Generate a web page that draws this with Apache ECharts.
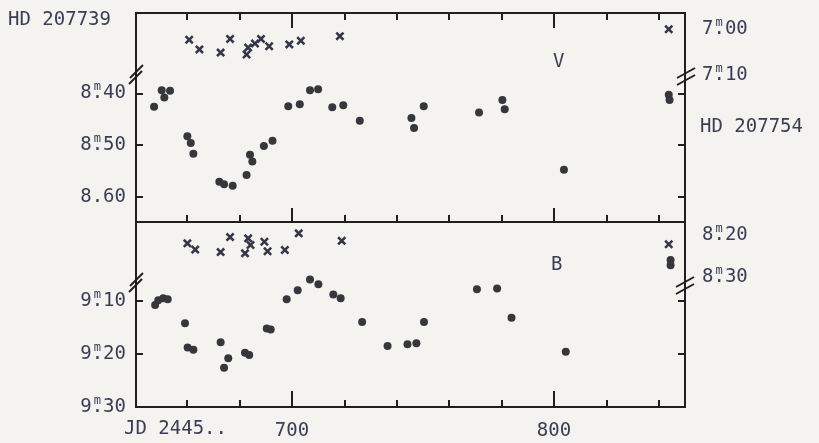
<!DOCTYPE html>
<html><head><meta charset="utf-8">
<script src="https://cdn.jsdelivr.net/npm/echarts@6/dist/echarts.min.js"></script>
<style>html,body{margin:0;padding:0;background:#f4f3ef}#c{width:819px;height:443px}</style>
</head><body><div id="c"></div>
<script>
// ---- data (JD - 2445000, magnitude) ----
const vStarJD  = [647.4,650.3,651.3,653.5,660.1,661.4,662.4,672.3,674.1,677.4,682.7,684.0,684.9,689.3,692.6,698.6,703.0,706.9,710.0,715.4,719.6,725.9,745.6,746.6,750.3,771.4,780.3,781.2,803.8,843.8,844.1];
const vStarMag = [8.426,8.394,8.408,8.395,8.483,8.496,8.517,8.571,8.576,8.579,8.558,8.519,8.532,8.502,8.492,8.425,8.421,8.394,8.392,8.427,8.423,8.453,8.448,8.467,8.425,8.437,8.413,8.431,8.548,8.403,8.413];
const vCompJD  = [660.8,664.7,672.8,676.4,682.7,683.3,685.9,688.2,691.3,699.0,703.4,718.3,843.8];
const vCompMag = [7.023,7.044,7.051,7.021,7.055,7.040,7.031,7.021,7.037,7.033,7.025,7.015,7.000];
const bStarJD  = [647.8,649.0,650.9,652.6,659.2,660.2,662.4,672.8,674.1,675.7,682.1,683.7,690.4,691.9,698.0,702.2,706.9,710.1,715.8,718.6,726.8,736.5,744.1,747.5,750.4,770.6,778.3,783.8,804.5,844.5,844.5];
const bStarMag = [9.108,9.099,9.095,9.097,9.142,9.188,9.192,9.178,9.226,9.208,9.198,9.202,9.152,9.154,9.097,9.080,9.060,9.069,9.088,9.095,9.140,9.185,9.182,9.180,9.140,9.078,9.077,9.132,9.196,9.023,9.033];
const bCompJD  = [660.1,663.1,672.8,676.4,683.3,684.2,682.1,689.5,690.7,697.3,702.6,719.0,843.8];
const bCompMag = [8.220,8.235,8.241,8.205,8.208,8.224,8.244,8.216,8.239,8.236,8.196,8.214,8.222];
// ticks and labels
const xMinorTicks = [660,680,720,740,760,780,820,840];
const xMajorTicks = [700,800];
const xLabels = [700,800];
const vLeftTicks = [8.40,8.50,8.60];
const vLeftLabels = ['8.40','8.50','8.60'];
const vLeftSup = [true,true,false];
const vRightTicks = [7.00,7.10];
const vRightLabels = ['7.00','7.10'];
const bLeftTicks = [9.10,9.20,9.30];
const bLeftLabels = ['9.10','9.20','9.30'];
const bRightTicks = [8.20,8.30];
const bRightLabels = ['8.20','8.30'];

const FONT = 'DejaVu Sans Mono';
const TXT = '#3a3e55';
const INK = '#1f1f22';
const FS = 19;

function zip(a,b){return a.map((v,i)=>[v,b[i]]);}
function lab(vals, labels, sup){
  return function(v){
    const i=vals.findIndex(t=>Math.abs(t-v)<1e-6);
    if(i<0) return '';
    const s = labels[i];
    const hasM = sup ? sup[i] : true;
    const p = s.indexOf('.');
    if(!hasM) return '{a|'+s+'}';
    return '{a|'+s.slice(0,p)+'}{m|m}{a|'+s.slice(p)+'}';
  };
}
const richStyle = {
  a:{fontFamily:FONT, fontSize:FS, lineHeight:24, color:TXT, align:'left'},
  m:{fontFamily:FONT, fontSize:12, lineHeight:1, verticalAlign:'top', color:TXT, align:'left', width:-2.1, padding:[0,0,0,2.1]}
};

function xa(grid, pos, ticks, len, labels){
  return {type:'value', gridIndex:grid, position:pos, min:640.5, max:850,
    axisLine:{show:true, onZero:false, lineStyle:{color:INK, width:2}},
    axisTick:{show:true, inside:true, length:len, customValues:ticks, lineStyle:{color:INK, width:2}},
    axisLabel: labels ? {show:true, customValues:labels, margin:15, fontFamily:FONT, fontSize:FS, color:TXT} : {show:false},
    splitLine:{show:false}};
}
function ya(grid, pos, min, max, ticks, labels, showTick, margin, sup){
  return {type:'value', gridIndex:grid, position:pos, inverse:true, min:min, max:max,
    axisLine:{show:true, onZero:false, lineStyle:{color:INK, width:2}},
    axisTick:{show:showTick, inside:true, length:7, customValues:ticks, lineStyle:{color:INK, width:2}},
    axisLabel: labels ? {show:true, customValues:ticks, formatter:lab(ticks,labels,sup), margin:margin, rich:richStyle, color:TXT} : {show:false},
    splitLine:{show:false}};
}

const crossPath = 'path://M2,0 L5,3 L8,0 L10,2 L7,5 L10,8 L8,10 L5,7 L2,10 L0,8 L3,5 L0,2Z';

const chart = echarts.init(document.getElementById('c'));
const option = {
  backgroundColor:'#f4f3ef',
  animation:false,
  grid:[{left:136, top:13, width:549, height:209},{left:136, top:222, width:549, height:185}],
  xAxis:[
    xa(0,'bottom',xMinorTicks,7,null),
    xa(0,'bottom',xMajorTicks,14,null),
    xa(0,'top',xMinorTicks,7,null),
    xa(0,'top',xMajorTicks,15,null),
    xa(1,'bottom',xMinorTicks,7,xLabels),
    xa(1,'bottom',xMajorTicks,16,null)
  ],
  yAxis:[
    ya(0,'left',8.2447,8.649,vLeftTicks,vLeftLabels,true,10,vLeftSup),
    ya(0,'right',6.9643,7.4217,vRightTicks,vRightLabels,false,17),
    ya(0,'right',8.2447,8.649,vLeftTicks,null,true,10),
    ya(1,'left',8.9515,9.30,bLeftTicks,bLeftLabels,true,10),
    ya(1,'right',8.1688,8.6125,bRightTicks,bRightLabels,false,17),
    ya(1,'right',8.9515,9.30,bLeftTicks.slice(0,2),null,true,10)
  ],
  series:[
    {name:'V HD 207739', type:'scatter', xAxisIndex:0, yAxisIndex:0, data:zip(vStarJD,vStarMag), symbol:'circle', symbolSize:8, itemStyle:{color:'#36373d', opacity:1}},
    {name:'V HD 207754', type:'scatter', xAxisIndex:0, yAxisIndex:1, data:zip(vCompJD,vCompMag), symbol:crossPath, symbolSize:9, itemStyle:{color:'#34364a', opacity:1}},
    {name:'B HD 207739', type:'scatter', xAxisIndex:4, yAxisIndex:3, data:zip(bStarJD,bStarMag), symbol:'circle', symbolSize:8, itemStyle:{color:'#36373d', opacity:1}},
    {name:'B HD 207754', type:'scatter', xAxisIndex:4, yAxisIndex:4, data:zip(bCompJD,bCompMag), symbol:crossPath, symbolSize:9, itemStyle:{color:'#34364a', opacity:1}}
  ],
  graphic:[
    {type:'text', left:8, top:11, style:{text:'HD 207739', font:FS+'px "'+FONT+'"', fill:TXT}},
    {type:'text', left:700, top:118, style:{text:'HD 207754', font:FS+'px "'+FONT+'"', fill:TXT}},
    {type:'text', left:553, top:53, style:{text:'V', font:FS+'px "'+FONT+'"', fill:TXT}},
    {type:'text', left:551, top:256, style:{text:'B', font:FS+'px "'+FONT+'"', fill:TXT}},
    {type:'text', left:124, top:420, style:{text:'JD 2445..', font:FS+'px "'+FONT+'"', fill:TXT}},
    // axis break marks
    {type:'line', shape:{x1:130,y1:78,x2:143,y2:65}, style:{stroke:INK, lineWidth:2}},
    {type:'line', shape:{x1:129,y1:84,x2:142,y2:71}, style:{stroke:INK, lineWidth:2}},
    {type:'line', shape:{x1:130,y1:286,x2:143,y2:273}, style:{stroke:INK, lineWidth:2}},
    {type:'line', shape:{x1:129,y1:292,x2:142,y2:279}, style:{stroke:INK, lineWidth:2}},
    {type:'line', shape:{x1:677,y1:78,x2:695,y2:68}, style:{stroke:INK, lineWidth:2}},
    {type:'line', shape:{x1:677,y1:85,x2:695,y2:75}, style:{stroke:INK, lineWidth:2}},
    {type:'line', shape:{x1:676,y1:287,x2:694,y2:277}, style:{stroke:INK, lineWidth:2}},
    {type:'line', shape:{x1:676,y1:294,x2:694,y2:284}, style:{stroke:INK, lineWidth:2}}
  ]
};
chart.setOption(option);
</script></body></html>
